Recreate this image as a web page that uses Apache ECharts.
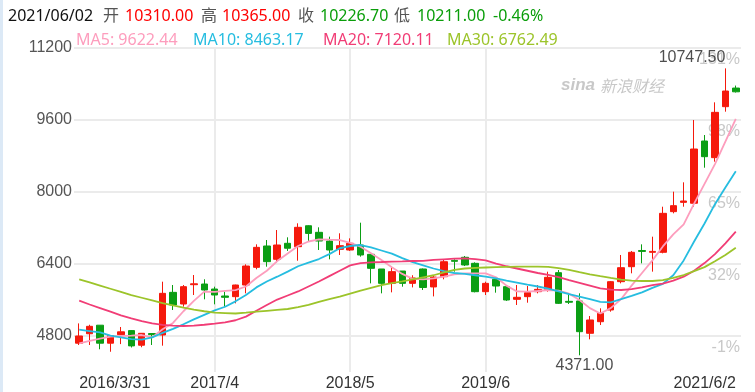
<!DOCTYPE html>
<html><head><meta charset="utf-8">
<script src="https://cdn.jsdelivr.net/npm/echarts@6/dist/echarts.min.js"></script>
<style>html,body{margin:0;padding:0;background:#fff}#c{width:755px;height:392px}</style>
</head><body><div id="c"></div>
<script>
const categories = ['2016/3/31','2016/4','2016/5','2016/6','2016/7','2016/8','2016/9','2016/10','2016/11','2016/12',
'2017/1','2017/2','2017/3','2017/4','2017/5','2017/6','2017/7','2017/8','2017/9','2017/10','2017/11','2017/12',
'2018/1','2018/2','2018/3','2018/4','2018/5','2018/6','2018/7','2018/8','2018/9','2018/10','2018/11','2018/12',
'2019/1','2019/2','2019/3','2019/4','2019/5','2019/6','2019/7','2019/8','2019/9','2019/10','2019/11','2019/12',
'2020/1','2020/2','2020/3','2020/4','2020/5','2020/6','2020/7','2020/8','2020/9','2020/10','2020/11','2020/12',
'2021/1','2021/2','2021/3','2021/4','2021/5','2021/6/2'];
const opens = [4640,4850,5040,4640,4830,4920,4595,4855,4822,5770,5511,5940,5955,5844,5689,5674,5933,6326,6800,6504,6860,6785,
7250,7104,6911,6726,6711,6822,6615,6289,5970,6244,5970,6289,5890,6118,6480,6549,6415,5785,6060,5896,5615,5674,5785,5837,
6207,5570,5578,4860,5118,5378,6007,6340,6700,6660,6660,7563,7770,7750,9133,8763,9896,10310];
const closes = [4800,5015,4640,4810,4893,4580,4860,4830,5748,5489,5896,5960,5822,5711,5660,5933,6355,6770,6452,6822,6750,7215,
7080,6911,6711,6807,6860,6600,6304,5970,6230,5970,6090,5878,6110,6451,6460,6378,5785,5970,5911,5600,5660,5763,5837,6104,
5526,5550,4896,5156,5304,6007,6318,6660,6680,6680,7526,7696,7800,8955,8785,9770,10244,10226.7];
const lows = [4600,4600,4505,4450,4620,4545,4550,4600,4585,5378,5452,5711,5615,5504,5452,5526,5748,6282,6340,6437,6690,6473,
6900,6711,6504,6600,6690,6563,5970,5748,5770,5896,5880,5822,5680,6060,6230,6355,5770,5711,5763,5580,5489,5540,5748,5785,
5511,5511,4371,4726,5044,5340,5970,6193,6415,6230,6637,7526,7673,7673,8540,8674,9785,10211];
const highs = [5080,5050,5040,4820,5000,4930,4860,4855,6007,5933,5933,6155,6060,5896,5785,5940,6393,6837,6933,7155,6993,7304,
7260,7215,7007,7082,6970,7318,6615,6289,6341,6244,6150,6300,6140,6504,6504,6578,6437,6007,6104,5896,5933,5911,5933,6229,
6267,5748,5748,5244,5415,6022,6600,6689,6837,7007,7673,8007,8215,9600,9266,9993,10747.5,10365];
const ma5 = [4637,4690,4740,4785,4800,4810,4822,4770,4950,5090,5350,5580,5785,5780,5805,5820,5900,6090,6250,6465,6635,6800,
6900,6948,6940,6933,6870,6785,6640,6489,6330,6180,6070,6060,6082,6120,6170,6193,6193,6193,6104,5920,5790,5785,5800,5822,
5810,5740,5600,5420,5300,5420,5620,5920,6200,6480,6790,7060,7280,7740,8180,8620,9120,9622.44];
const ma10 = [4940,4910,4880,4810,4770,4730,4720,4770,4870,4960,5060,5170,5270,5370,5450,5570,5711,5880,6010,6118,6230,6350,
6430,6510,6620,6750,6800,6822,6770,6700,6630,6530,6440,6370,6300,6240,6200,6180,6150,6120,6080,6030,5985,5940,5900,5855,
5790,5730,5674,5620,5560,5548,5620,5690,5770,5870,5960,6150,6480,6900,7300,7730,8100,8463.17];
const ma20 = [5585,5500,5420,5340,5260,5190,5130,5080,5045,5030,5022,5030,5050,5075,5105,5150,5230,5360,5490,5610,5700,5790,
5900,6010,6130,6250,6370,6420,6435,6444,6455,6460,6467,6470,6490,6505,6520,6526,6510,6480,6410,6350,6300,6250,6200,6160,
6110,6040,5980,5920,5860,5830,5822,5840,5880,5930,5965,6030,6118,6250,6420,6620,6860,7120.11];
const ma30 = [6060,5990,5920,5850,5780,5710,5650,5590,5530,5480,5430,5385,5350,5320,5310,5300,5318,5340,5360,5380,5400,5440,
5490,5560,5620,5674,5740,5810,5870,5930,5975,6015,6060,6105,6150,6215,6270,6300,6312,6322,6330,6335,6340,6340,6340,6338,
6310,6270,6220,6171,6130,6090,6055,6030,6022,6022,6040,6090,6155,6240,6330,6460,6600,6762.49];
const priceTicks = [4800,6400,8000,9600,11200];
const priceLabels = ['4800','6400','8000','9600','11200'];
const pctLabels = ['-1%','32%','65%','98%','131%'];
const shownLabels = ['2016/3/31','2017/4','2018/5','2019/6','2021/6/2'];
const gridMonths = ['2017/4','2018/5','2019/6'];
const headerDate = '2021/06/02';
const headerChange = '-0.46%';

const UP = '#f5190c', DOWN = '#0b9e14';
const C5 = '#fd9dbd', C10 = '#26bde0', C20 = '#f13d76', C30 = '#9cc42a';
const FONT = 'Arial, "Liberation Sans", "Noto Sans CJK SC", sans-serif';
const HFONT = '"Noto Sans", "Noto Sans CJK SC", sans-serif';

const last = closes.length - 1;
const kData = opens.map((o, i) => [o, closes[i], lows[i], highs[i]]);
const maxV = Math.max(...highs), maxI = highs.indexOf(maxV);
const minV = Math.min(...lows), minI = lows.indexOf(minV);

function txt(t, x, y, color, font) {
  return {type: 'text', x: x, y: y, silent: true,
    style: {text: t, fill: color, font: font || ('16px ' + HFONT), verticalAlign: 'middle'}};
}
const graphics = [
  {type: 'rect', shape: {x: 0, y: 0, width: 3, height: 392}, style: {fill: '#dce9f6'}, silent: true},
  txt(headerDate, 8, 16, '#111'),
  txt('开', 103, 16, '#555'),
  txt(opens[last].toFixed(2), 125, 16, '#f00'),
  txt('高', 201, 16, '#555'),
  txt(highs[last].toFixed(2), 222, 16, '#f00'),
  txt('收', 298, 16, '#555'),
  txt(closes[last].toFixed(2), 320, 16, '#0a9e0a'),
  txt('低', 394, 16, '#555'),
  txt(lows[last].toFixed(2), 417, 16, '#0a9e0a'),
  txt(headerChange, 493, 16, '#0a9e0a'),
  txt('MA5: ' + ma5[last].toFixed(2), 76, 40, C5),
  txt('MA10: ' + ma10[last].toFixed(2), 193, 40, C10),
  txt('MA20: ' + ma20[last].toFixed(2), 323, 40, C20),
  txt('MA30: ' + ma30[last].toFixed(2), 447, 40, C30),
  txt('sina', 561, 85, '#c8c8c8', 'italic bold 17px ' + FONT),
  txt('新浪财经', 600, 86, '#c8c8c8', 'italic 16px "Noto Sans CJK SC", sans-serif')
];

function maLine(name, data, color) {
  return {name: name, type: 'line', data: data, symbol: 'none', showSymbol: false, z: 3,
    lineStyle: {color: color, width: 1.8}, itemStyle: {color: color}, silent: true};
}

const chart = echarts.init(document.getElementById('c'));
chart.setOption({
  animation: false,
  backgroundColor: '#fff',
  grid: {left: 74, right: 14, top: 48, bottom: 20},
  xAxis: {
    type: 'category', data: categories, boundaryGap: true,
    axisLine: {show: false}, axisTick: {show: false}, splitLine: {show: false},
    axisLabel: {
      interval: (i, v) => shownLabels.includes(v),
      color: '#333', fontSize: 16, fontFamily: FONT, margin: 4,
      alignMinLabel: 'left', alignMaxLabel: 'right'
    }
  },
  yAxis: [{
    type: 'value', min: 4000, max: 11200, position: 'left', scale: true,
    axisLine: {show: false}, axisTick: {show: false, customValues: priceTicks},
    axisLabel: {customValues: priceTicks, color: '#555', fontSize: 16, fontFamily: FONT, margin: 2,
      formatter: v => priceLabels[priceTicks.indexOf(v)]},
    splitLine: {show: true, lineStyle: {color: '#ebebeb', width: 2}}
  }, {
    type: 'value', min: 4000, max: 11200, position: 'right', scale: true,
    axisLine: {show: false}, axisTick: {show: false, customValues: priceTicks},
    axisLabel: {customValues: priceTicks, inside: true, margin: 1,
      formatter: v => pctLabels[priceTicks.indexOf(v)],
      verticalAlign: 'top', padding: [4, 0, 0, 0], color: '#c8c8c8', fontSize: 16, fontFamily: FONT},
    splitLine: {show: false}
  }],
  graphic: graphics,
  series: [{
    name: 'K', type: 'candlestick', data: kData, barWidth: 7, z: 2, silent: true,
    itemStyle: {color: UP, color0: DOWN, borderColor: UP, borderColor0: DOWN, borderWidth: 1},
    markLine: {
      silent: true, z: 1, symbol: ['none', 'none'], label: {show: false},
      lineStyle: {color: '#ebebeb', width: 2, type: 'solid'},
      data: gridMonths.map(m => ({xAxis: m}))
    }
  },
  maLine('MA5', ma5, C5),
  maLine('MA10', ma10, C10),
  maLine('MA20', ma20, C20),
  maLine('MA30', ma30, C30),
  {
    type: 'scatter', symbolSize: 1, z: 5, silent: true,
    itemStyle: {color: 'rgba(0,0,0,0)'},
    data: [
      {value: [maxI, maxV], label: {show: true, position: 'top', align: 'right', distance: 2,
        formatter: maxV.toFixed(2), color: '#222', fontSize: 16, fontFamily: FONT}},
      {value: [minI, minV], label: {show: true, position: 'bottom', distance: 2, offset: [5, 0],
        formatter: minV.toFixed(2), color: '#222', fontSize: 16, fontFamily: FONT}}
    ]
  }]
});
</script></body></html>
